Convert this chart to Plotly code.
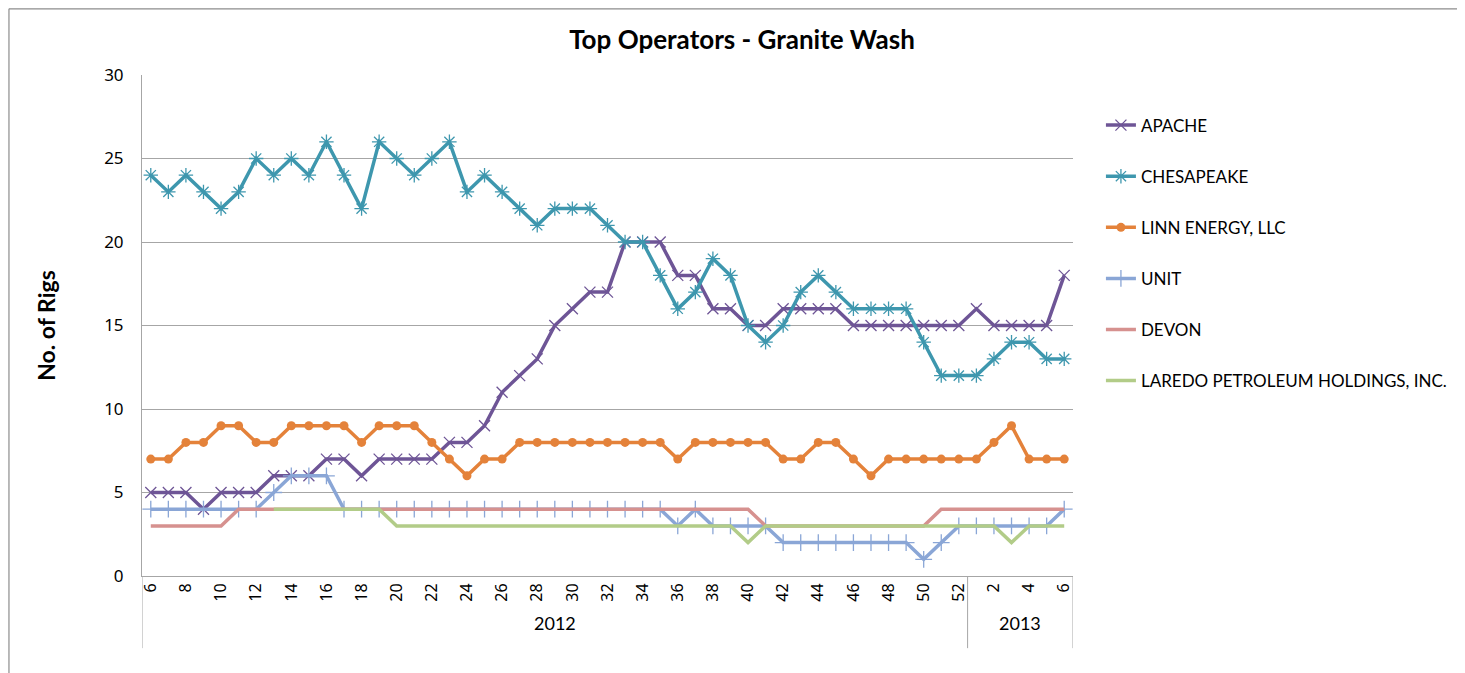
import plotly.graph_objects as go

weeks_2012 = list(range(6, 53))
weeks_2013 = list(range(1, 7))
years = ["2012", "2013"]

apache = [5, 5, 5, 4, 5, 5, 5, 6, 6, 6, 7, 7, 6, 7, 7, 7, 7, 8, 8, 9, 11, 12, 13, 15, 16, 17, 17, 20, 20, 20,
          18, 18, 16, 16, 15, 15, 16, 16, 16, 16, 15, 15, 15, 15, 15, 15, 15,
          16, 15, 15, 15, 15, 18]
chesapeake = [24, 23, 24, 23, 22, 23, 25, 24, 25, 24, 26, 24, 22, 26, 25, 24, 25, 26, 23, 24, 23, 22, 21, 22, 22,
              22, 21, 20, 20, 18, 16, 17, 19, 18, 15, 14, 15, 17, 18, 17, 16, 16, 16, 16, 14, 12, 12,
              12, 13, 14, 14, 13, 13]
linn = [7, 7, 8, 8, 9, 9, 8, 8, 9, 9, 9, 9, 8, 9, 9, 9, 8, 7, 6, 7, 7, 8, 8, 8, 8, 8, 8, 8, 8, 8,
        7, 8, 8, 8, 8, 8, 7, 7, 8, 8, 7, 6, 7, 7, 7, 7, 7,
        7, 8, 9, 7, 7, 7]
unit = [4, 4, 4, 4, 4, 4, 4, 5, 6, 6, 6, 4, 4, 4, 4, 4, 4, 4, 4, 4, 4, 4, 4, 4, 4, 4, 4, 4, 4, 4,
        3, 4, 3, 3, 3, 3, 2, 2, 2, 2, 2, 2, 2, 2, 1, 2, 3,
        3, 3, 3, 3, 3, 4]
devon = [3, 3, 3, 3, 3, 4, 4, 4, 4, 4, 4, 4, 4, 4, 4, 4, 4, 4, 4, 4, 4, 4, 4, 4, 4, 4, 4, 4, 4, 4,
         4, 4, 4, 4, 4, 3, 3, 3, 3, 3, 3, 3, 3, 3, 3, 4, 4,
         4, 4, 4, 4, 4, 4]
laredo = [None, None, None, None, None, None, None, 4, 4, 4, 4, 4, 4, 4, 3, 3, 3, 3, 3, 3, 3, 3, 3, 3, 3,
          3, 3, 3, 3, 3, 3, 3, 3, 3, 2, 3, 3, 3, 3, 3, 3, 3, 3, 3, 3, 3, 3,
          3, 3, 2, 3, 3, 3]

series = [
    ("APACHE", apache, "#6E5596", "x-thin-open", 11, 1.3),
    ("CHESAPEAKE", chesapeake, "#3E97AE", "asterisk-open", 12, 1.3),
    ("LINN ENERGY, LLC", linn, "#E4823A", "circle", 9, 0),
    ("UNIT", unit, "#8AA6D6", "cross-thin-open", 12, 1.3),
    ("DEVON", devon, "#D6918F", None, 0, 0),
    ("LAREDO PETROLEUM HOLDINGS, INC.", laredo, "#B2CC88", None, 0, 0),
]

n = len(weeks_2012) + len(weeks_2013)
xs = list(range(n))
week_labels = [str(w) for w in weeks_2012] + [str(w) for w in weeks_2013]

fig = go.Figure()
for i, (name, vals, color, sym, size, lw) in enumerate(series):
    if sym:
        fig.add_trace(go.Scatter(
            x=xs, y=vals, name=name, mode="lines+markers", legendgroup=str(i),
            line=dict(color=color, width=3.5),
            marker=dict(symbol=sym, size=size, color=color, line=dict(color=color, width=lw)),
        ))
    else:
        fig.add_trace(go.Scatter(
            x=xs, y=vals, name=name, mode="lines", legendgroup=str(i),
            line=dict(color=color, width=3.5),
        ))

tickvals = [i for i in xs if int(week_labels[i]) % 2 == 0]
ticktext = [week_labels[i] for i in tickvals]

split = len(weeks_2012) - 0.5
end = n - 0.5
sep_bottom = -0.144

shapes = []
for xv in [-0.5, split, end]:
    shapes.append(dict(type="line", xref="x", yref="paper", x0=xv, x1=xv, y0=0, y1=sep_bottom,
                       line=dict(color="#A6A6A6", width=1)))
# outer chart border
shapes.append(dict(type="line", xref="paper", yref="paper", x0=-0.1429, x1=1.45, y0=1.132, y1=1.132,
                   line=dict(color="#8C8C8C", width=1.2)))
shapes.append(dict(type="line", xref="paper", yref="paper", x0=-0.1429, x1=-0.1429, y0=1.132, y1=-0.3,
                   line=dict(color="#8C8C8C", width=1.2)))

annotations = [
    dict(text=years[0], x=(len(weeks_2012) - 1) / 2, y=-0.12, xref="x", yref="paper",
         showarrow=False, font=dict(size=18, family="Lato, sans-serif", color="#000")),
    dict(text=years[1], x=(len(weeks_2012) + n - 1) / 2, y=-0.12, xref="x", yref="paper",
         showarrow=False, font=dict(size=18, family="Lato, sans-serif", color="#000")),
]

fig.update_layout(
    width=1457, height=665,
    margin=dict(l=134, r=392, t=67, b=97),
    paper_bgcolor="white", plot_bgcolor="white",
    title=dict(text="<b>Top Operators - Granite Wash</b>", x=(734 / 1457), xanchor="center",
               y=1 - 32 / 665, yanchor="middle",
               font=dict(size=26, family="Lato, sans-serif", color="#000")),
    xaxis=dict(range=[-0.5, end], tickmode="array", tickvals=tickvals, ticktext=ticktext,
               tickangle=-90, showgrid=False, zeroline=False, showline=True,
               linecolor="#A6A6A6", linewidth=1, ticks="",
               tickfont=dict(size=16, family="Noto Sans, sans-serif", color="#000")),
    yaxis=dict(range=[0, 30], dtick=5, showgrid=True, gridcolor="#A6A6A6", gridwidth=1,
               zeroline=False, showline=True, linecolor="#A6A6A6", linewidth=1, ticks="",
               tickfont=dict(size=17, family="Noto Sans, sans-serif", color="#000"),
               ticklabelstandoff=14,
               title=dict(text="<b>No. of Rigs</b>", standoff=42,
                          font=dict(size=23, family="Lato, sans-serif", color="#000"))),
    legend=dict(x=1.03, y=0.935, xanchor="left", yanchor="top", tracegroupgap=26,
                font=dict(size=17, family="Lato, sans-serif", color="#000"),
                bgcolor="rgba(0,0,0,0)"),
    shapes=shapes,
    annotations=annotations,
    showlegend=True,
)

fig.write_html("out.html")
